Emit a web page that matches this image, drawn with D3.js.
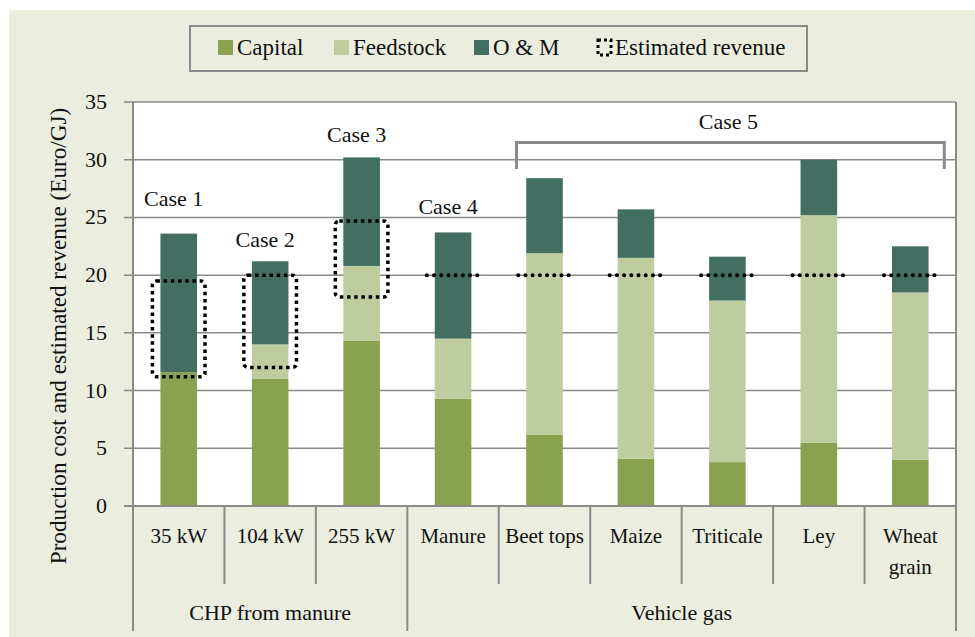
<!DOCTYPE html>
<html>
<head>
<meta charset="utf-8">
<script src="https://cdn.jsdelivr.net/npm/d3@7"></script>
<style>
  body { margin: 0; background: #fff; }
  svg text { font-family: "Liberation Serif", "DejaVu Serif", serif; fill: #111; }
</style>
</head>
<body>
<div id="chart"></div>
<script>
// data
var categories = ["35 kW", "104 kW", "255 kW", "Manure", "Beet tops", "Maize", "Triticale", "Ley", "Wheat grain"];
var capital   = [11.6, 11.0, 14.3, 9.3, 6.2, 4.1, 3.8, 5.5, 4.0];
var feedstock = [0.0, 3.0, 6.5, 5.2, 15.7, 17.4, 14.0, 19.7, 14.5];
var om        = [12.0, 7.2, 9.4, 9.2, 6.5, 4.2, 3.8, 4.8, 4.0];
var revenueLow  = [11.2, 12.0, 18.1, 20, 20, 20, 20, 20, 20];
var revenueHigh = [19.5, 20.0, 24.7, 20, 20, 20, 20, 20, 20];
var groupNames = ["CHP from manure", "Vehicle gas"];
var groupSizes = [3, 6];
var caseLabels = ["Case 1", "Case 2", "Case 3", "Case 4"];
var caseLabelAt = [26.0, 22.4, 31.5, 25.3];
var case5Label = "Case 5";
var yTicks = [0, 5, 10, 15, 20, 25, 30, 35];
var seriesNames = ["Capital", "Feedstock", "O & M"];
var seriesColors = ["#8aa14f", "#bfcc9e", "#436e62"];

var W = 975, H = 637;
var plotL = 133, plotR = 956, plotT = 102, plotB = 506;
var fs = "22px";

var svg = d3.select("#chart").append("svg")
    .attr("width", W)
    .attr("height", H)

// panel background
svg.append("rect")
    .attr("x", 9).attr("y", 10)
    .attr("width", W - 9).attr("height", H - 10)
    .attr("fill", "#ebeedf")

var x = d3.scaleBand().domain(categories).range([plotL, plotR]).padding(0)
var y = d3.scaleLinear().domain([0, 35]).range([plotB, plotT])
var barW = x.bandwidth() * 0.4

// plot area
svg.append("rect")
    .attr("x", plotL).attr("y", plotT)
    .attr("width", plotR - plotL).attr("height", plotB - plotT)
    .attr("fill", "#fff")
svg.append("line")
    .attr("x1", plotR).attr("x2", plotR)
    .attr("y1", plotT).attr("y2", plotB)
    .attr("stroke", "#8a8a8a").attr("stroke-width", 2)

// gridlines + y ticks
svg.append("g")
    .selectAll("line")
    .data(yTicks)
    .enter()
    .append("line")
    .attr("x1", plotL - 9).attr("x2", plotR)
    .attr("y1", d => y(d)).attr("y2", d => y(d))
    .attr("stroke", "#8a8a8a").attr("stroke-width", 1.5)

svg.append("g")
    .selectAll("text")
    .data(yTicks)
    .enter()
    .append("text")
    .attr("x", 107)
    .attr("y", d => y(d) + 7)
    .attr("text-anchor", "end")
    .style("font-size", "22px")
    .text(d => d)

// y axis line
svg.append("line")
    .attr("x1", plotL).attr("x2", plotL)
    .attr("y1", plotT).attr("y2", plotB)
    .attr("stroke", "#8a8a8a").attr("stroke-width", 2)

svg.append("text")
    .attr("transform", "translate(66,336) rotate(-90)")
    .attr("text-anchor", "middle")
    .style("font-size", "23.2px")
    .text("Production cost and estimated revenue (Euro/GJ)")

// stacked bars
var rows = categories.map(function (c, i) {
    return { cat: c, Capital: capital[i], Feedstock: feedstock[i], "O & M": om[i] };
});
var stack = d3.stack().keys(seriesNames)(rows)

svg.append("g")
    .selectAll("g")
    .data(stack)
    .enter()
    .append("g")
    .attr("fill", (d, i) => seriesColors[i])
    .selectAll("rect")
    .data(d => d)
    .enter()
    .append("rect")
    .attr("x", d => x(d.data.cat) + (x.bandwidth() - barW) / 2)
    .attr("y", d => y(d[1]))
    .attr("width", barW)
    .attr("height", d => y(d[0]) - y(d[1]))

// estimated revenue: boxes for ranges, dotted lines for fixed values
var rev = svg.append("g")
categories.forEach(function (c, i) {
    var cx = x(c) + x.bandwidth() / 2;
    if (revenueHigh[i] > revenueLow[i]) {
        rev.append("rect")
            .attr("x", cx - barW / 2 - 8)
            .attr("y", y(revenueHigh[i]))
            .attr("width", barW + 16)
            .attr("height", y(revenueLow[i]) - y(revenueHigh[i]))
            .attr("rx", 4)
            .attr("fill", "none")
            .attr("stroke", "#000")
            .attr("stroke-width", 3.5)
            .attr("stroke-dasharray", "3.5 3.7")
    } else {
        rev.append("line")
            .attr("x1", cx - barW / 2 - 8)
            .attr("x2", cx + barW / 2 + 11)
            .attr("y1", y(revenueLow[i])).attr("y2", y(revenueLow[i]))
            .attr("stroke", "#000")
            .attr("stroke-width", 4)
            .attr("stroke-linecap", "round")
            .attr("stroke-dasharray", "0.1 7.1")
    }
})

// case labels
svg.append("g")
    .selectAll("text")
    .data(caseLabels)
    .enter()
    .append("text")
    .attr("x", (d, i) => x(categories[i]) + x.bandwidth() / 2 - 5)
    .attr("y", (d, i) => y(caseLabelAt[i]))
    .attr("text-anchor", "middle")
    .style("font-size", fs)
    .text(d => d)

// case 5 bracket
var bx1 = x(categories[4]) + x.bandwidth() / 2 - 28;
var bx2 = x(categories[8]) + x.bandwidth() / 2 + 34;
svg.append("path")
    .attr("d", "M" + bx1 + "," + y(29.2) + "V" + y(31.5) + "H" + bx2 + "V" + y(29.2))
    .attr("fill", "none")
    .attr("stroke", "#8a8a8a")
    .attr("stroke-width", 3)
svg.append("text")
    .attr("x", (bx1 + bx2) / 2 - 2)
    .attr("y", y(32.7))
    .attr("text-anchor", "middle")
    .style("font-size", fs)
    .text(case5Label)

// category axis
var axisG = svg.append("g")
axisG.append("line")
    .attr("x1", plotL - 9).attr("x2", plotR)
    .attr("y1", plotB).attr("y2", plotB)
    .attr("stroke", "#8a8a8a").attr("stroke-width", 2)

var boundaries = categories.map(c => x(c)).concat([plotR])
axisG.selectAll(".sep")
    .data(boundaries)
    .enter()
    .append("line")
    .attr("x1", d => d).attr("x2", d => d)
    .attr("y1", plotB).attr("y2", 584)
    .attr("stroke", "#8a8a8a").attr("stroke-width", 2)

axisG.selectAll(".cat")
    .data(categories)
    .enter()
    .append("text")
    .attr("x", d => x(d) + x.bandwidth() / 2)
    .attr("y", 543)
    .attr("text-anchor", "middle")
    .style("font-size", "21px")
    .each(function (d) {
        var words = d === "Wheat grain" ? ["Wheat", "grain"] : [d];
        var t = d3.select(this);
        words.forEach(function (w, k) {
            t.append("tspan")
                .attr("x", x(d) + x.bandwidth() / 2)
                .attr("dy", k === 0 ? 0 : 31)
                .text(w)
        })
    })

// group level
var start = 0;
groupNames.forEach(function (g, i) {
    var x0 = x(categories[start]);
    var x1 = start + groupSizes[i] < categories.length ? x(categories[start + groupSizes[i]]) : plotR;
    axisG.append("line")
        .attr("x1", x0).attr("x2", x0)
        .attr("y1", 584).attr("y2", 631)
        .attr("stroke", "#8a8a8a").attr("stroke-width", 2)
    axisG.append("text")
        .attr("x", (x0 + x1) / 2)
        .attr("y", 620)
        .attr("text-anchor", "middle")
        .style("font-size", fs)
        .text(g)
    start += groupSizes[i];
})
axisG.append("line")
    .attr("x1", plotR).attr("x2", plotR)
    .attr("y1", 584).attr("y2", 631)
    .attr("stroke", "#8a8a8a").attr("stroke-width", 2)

// legend
var lg = svg.append("g")
lg.append("rect")
    .attr("x", 190).attr("y", 26)
    .attr("width", 617).attr("height", 45)
    .attr("fill", "none")
    .attr("stroke", "#8a8a8a").attr("stroke-width", 2)

var legendX = [218, 334, 474];
seriesNames.forEach(function (s, i) {
    lg.append("rect")
        .attr("x", legendX[i]).attr("y", 40)
        .attr("width", 15).attr("height", 15)
        .attr("fill", seriesColors[i])
    lg.append("text")
        .attr("x", legendX[i] + 19).attr("y", 55)
        .style("font-size", "23px")
        .text(s)
})
lg.append("rect")
    .attr("x", 598).attr("y", 40)
    .attr("width", 13).attr("height", 15)
    .attr("fill", "none")
    .attr("stroke", "#000").attr("stroke-width", 3)
    .attr("stroke-dasharray", "3 3")
lg.append("text")
    .attr("x", 615).attr("y", 55)
    .style("font-size", "23px")
    .text("Estimated revenue")
</script>
</body>
</html>
